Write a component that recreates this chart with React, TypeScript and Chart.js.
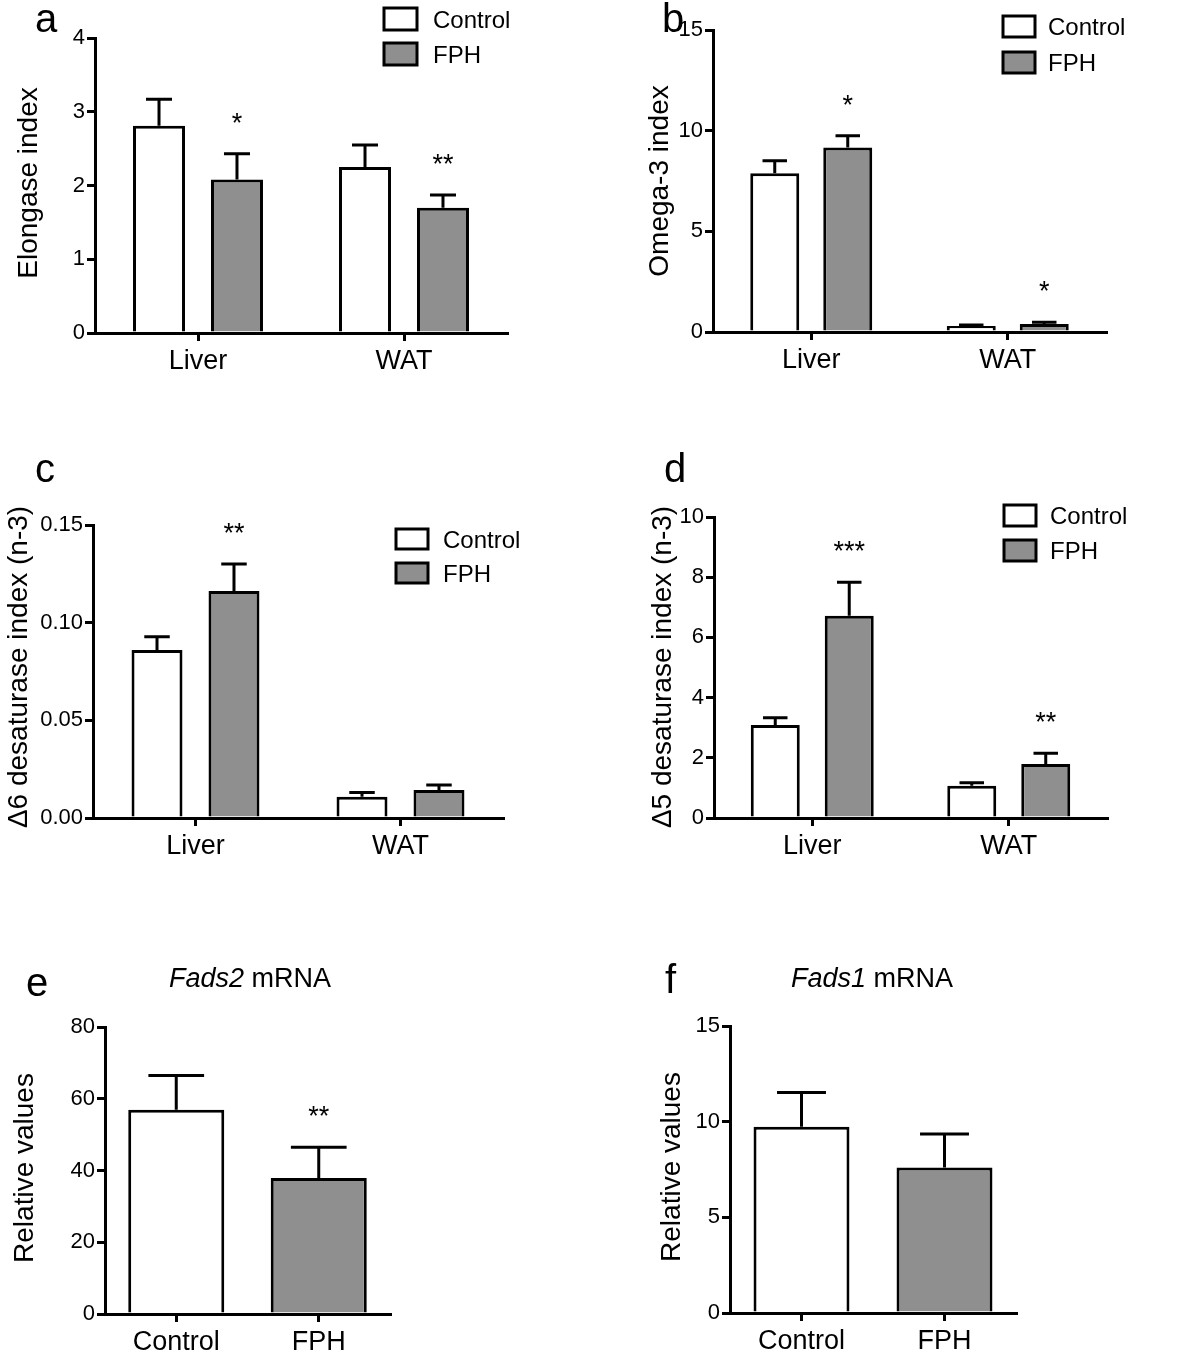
import React, { useEffect, useRef } from "react";
import { Chart, registerables } from "chart.js";

Chart.register(...registerables);

const FONT = '"Liberation Sans", Arial, Helvetica, sans-serif';
const GRAY = "#8f8f8f";

// ---------- data ----------
const tissueCategories = ["Liver", "WAT"];
const groupCategories = ["Control", "FPH"];
const seriesNames = ["Control", "FPH"];

// a: Elongase index
const elongaseControl = [2.81, 2.25];
const elongaseControlErr = [0.36, 0.3];
const elongaseFPH = [2.08, 1.7];
const elongaseFPHErr = [0.35, 0.17];
const elongaseStars = ["*", "**"];
const elongaseTicks = [0, 1, 2, 3, 4];

// b: Omega-3 index
const omegaControl = [7.88, 0.3];
const omegaControlErr = [0.63, 0.05];
const omegaFPH = [9.16, 0.4];
const omegaFPHErr = [0.59, 0.08];
const omegaStars = ["*", "*"];
const omegaTicks = [0, 5, 10, 15];

// c: Δ6 desaturase index (n-3)
const d6Control = [0.086, 0.0109];
const d6ControlErr = [0.0068, 0.0022];
const d6FPH = [0.1162, 0.0143];
const d6FPHErr = [0.0138, 0.0026];
const d6Stars = ["**", ""];
const d6Ticks = [0, 0.05, 0.1, 0.15];

// d: Δ5 desaturase index (n-3)
const d5Control = [3.09, 1.07];
const d5ControlErr = [0.24, 0.1];
const d5FPH = [6.72, 1.79];
const d5FPHErr = [1.11, 0.36];
const d5Stars = ["***", "**"];
const d5Ticks = [0, 2, 4, 6, 8, 10];

// e: Fads2 mRNA
const fads2Values = [56.9, 37.9];
const fads2Err = [9.6, 8.6];
const fads2Stars = ["", "**"];
const fads2Ticks = [0, 20, 40, 60, 80];

// f: Fads1 mRNA
const fads1Values = [9.74, 7.61];
const fads1Err = [1.78, 1.75];
const fads1Stars = ["", ""];
const fads1Ticks = [0, 5, 10, 15];

type Panel = {
  canvas: { x: number; y: number; w: number; h: number };
  area: { l: number; t: number; r: number; b: number };
  labels: string[];
  datasets: any[];
  errors: number[][];
  stars: string[][];
  ticks: number[];
  decimals: number;
  catPct: number;
  barPct: number;
  capFrac: number;
  yTitle: string;
  yTitlePos: [number, number];
  letter: string;
  letterPos: [number, number];
  legend?: { x: number; y1: number; y2: number; w: number; h: number; textX: number };
  title?: { italic: string; rest: string; cx: number; by: number };
};

const twoSeries = (c: number[], f: number[]) => [
  { label: seriesNames[0], data: c, backgroundColor: "#ffffff" },
  { label: seriesNames[1], data: f, backgroundColor: GRAY },
];
const oneSeries = (v: number[]) => [
  { label: "values", data: v, backgroundColor: ["#ffffff", GRAY] },
];

const panels: Panel[] = [
  {
    canvas: { x: 0, y: 0, w: 600, h: 450 },
    area: { l: 95, t: 38, r: 507, b: 333 },
    labels: tissueCategories,
    datasets: twoSeries(elongaseControl, elongaseFPH),
    errors: [elongaseControlErr, elongaseFPHErr],
    stars: [["", ""], elongaseStars],
    ticks: elongaseTicks,
    decimals: 0,
    catPct: 0.757,
    barPct: 0.667,
    capFrac: 0.5,
    yTitle: "Elongase index",
    yTitlePos: [37, 183],
    letter: "a",
    letterPos: [35, 32],
    legend: { x: 384, y1: 8, y2: 43, w: 33, h: 22, textX: 433 },
  },
  {
    canvas: { x: 600, y: 0, w: 600, h: 450 },
    area: { l: 713, t: 30, r: 1106, b: 332 },
    labels: tissueCategories,
    datasets: twoSeries(omegaControl, omegaFPH),
    errors: [omegaControlErr, omegaFPHErr],
    stars: [["", ""], omegaStars],
    ticks: omegaTicks,
    decimals: 0,
    catPct: 0.743,
    barPct: 0.671,
    capFrac: 0.5,
    yTitle: "Omega-3 index",
    yTitlePos: [668, 181],
    letter: "b",
    letterPos: [662, 32],
    legend: { x: 1003, y1: 16, y2: 52, w: 32, h: 21, textX: 1048 },
  },
  {
    canvas: { x: 0, y: 450, w: 600, h: 450 },
    area: { l: 93, t: 525, r: 503, b: 818 },
    labels: tissueCategories,
    datasets: twoSeries(d6Control, d6FPH),
    errors: [d6ControlErr, d6FPHErr],
    stars: [["", ""], d6Stars],
    ticks: d6Ticks,
    decimals: 2,
    catPct: 0.751,
    barPct: 0.662,
    capFrac: 0.5,
    yTitle: "\u03946 desaturase index (n-3)",
    yTitlePos: [27, 667],
    letter: "c",
    letterPos: [35, 482],
    legend: { x: 396, y1: 529, y2: 563, w: 32, h: 20, textX: 443 },
  },
  {
    canvas: { x: 600, y: 450, w: 600, h: 450 },
    area: { l: 714, t: 517, r: 1107, b: 818 },
    labels: tissueCategories,
    datasets: twoSeries(d5Control, d5FPH),
    errors: [d5ControlErr, d5FPHErr],
    stars: [["", ""], d5Stars],
    ticks: d5Ticks,
    decimals: 0,
    catPct: 0.753,
    barPct: 0.662,
    capFrac: 0.5,
    yTitle: "\u03945 desaturase index (n-3)",
    yTitlePos: [671, 667],
    letter: "d",
    letterPos: [664, 482],
    legend: { x: 1004, y1: 505, y2: 540, w: 32, h: 21, textX: 1050 },
  },
  {
    canvas: { x: 0, y: 930, w: 640, h: 433 },
    area: { l: 105, t: 1027, r: 390, b: 1314 },
    labels: groupCategories,
    datasets: oneSeries(fads2Values),
    errors: [fads2Err],
    stars: [fads2Stars],
    ticks: fads2Ticks,
    decimals: 0,
    catPct: 1,
    barPct: 0.674,
    capFrac: 0.58,
    yTitle: "Relative values",
    yTitlePos: [33, 1168],
    letter: "e",
    letterPos: [26, 996],
    title: { italic: "Fads2", rest: " mRNA", cx: 250, by: 987 },
  },
  {
    canvas: { x: 640, y: 930, w: 560, h: 433 },
    area: { l: 730, t: 1026, r: 1016, b: 1313 },
    labels: groupCategories,
    datasets: oneSeries(fads1Values),
    errors: [fads1Err],
    stars: [fads1Stars],
    ticks: fads1Ticks,
    decimals: 0,
    catPct: 1,
    barPct: 0.671,
    capFrac: 0.51,
    yTitle: "Relative values",
    yTitlePos: [680, 1167],
    letter: "f",
    letterPos: [665, 993],
    title: { italic: "Fads1", rest: " mRNA", cx: 872, by: 987 },
  },
];

function makeDecor(p: Panel) {
  const ox = p.canvas.x;
  const oy = p.canvas.y;
  return {
    id: "decor",
    afterDatasetsDraw(chart: any) {
      const ctx = chart.ctx;
      const yScale = chart.scales.y;
      ctx.save();
      ctx.strokeStyle = "#000";
      ctx.fillStyle = "#000";
      ctx.lineWidth = 3;
      ctx.lineCap = "butt";
      chart.data.datasets.forEach((ds: any, di: number) => {
        const meta = chart.getDatasetMeta(di);
        meta.data.forEach((el: any, i: number) => {
          const v = ds.data[i];
          const e = p.errors[di][i];
          const top = yScale.getPixelForValue(v + e);
          const capW = el.width * p.capFrac;
          ctx.beginPath();
          ctx.moveTo(el.x, el.y);
          ctx.lineTo(el.x, top);
          ctx.moveTo(el.x - capW / 2, top);
          ctx.lineTo(el.x + capW / 2, top);
          ctx.stroke();
          const s = p.stars[di][i];
          if (s) {
            ctx.font = `27px ${FONT}`;
            ctx.textAlign = "center";
            ctx.textBaseline = "alphabetic";
            const m = ctx.measureText(s);
            const cy = top - 36;
            const base = cy + (m.actualBoundingBoxAscent - m.actualBoundingBoxDescent) / 2;
            ctx.fillText(s, el.x, base);
          }
        });
      });
      ctx.restore();
    },
    afterDraw(chart: any) {
      const ctx = chart.ctx;
      ctx.save();
      ctx.fillStyle = "#000";
      // panel letter
      ctx.font = `40px ${FONT}`;
      ctx.textAlign = "left";
      ctx.textBaseline = "alphabetic";
      ctx.fillText(p.letter, p.letterPos[0] - ox, p.letterPos[1] - oy);
      // y title
      ctx.save();
      ctx.translate(p.yTitlePos[0] - ox, p.yTitlePos[1] - oy);
      ctx.rotate(-Math.PI / 2);
      ctx.font = `28px ${FONT}`;
      ctx.textAlign = "center";
      ctx.fillText(p.yTitle, 0, 0);
      ctx.restore();
      // legend
      if (p.legend) {
        const L = p.legend;
        [L.y1, L.y2].forEach((yy, i) => {
          ctx.fillStyle = i === 0 ? "#ffffff" : GRAY;
          ctx.fillRect(L.x - ox, yy - oy, L.w, L.h);
          ctx.strokeStyle = "#000";
          ctx.lineWidth = 3;
          ctx.strokeRect(L.x - ox, yy - oy, L.w, L.h);
          ctx.fillStyle = "#000";
          ctx.font = `24px ${FONT}`;
          ctx.textAlign = "left";
          ctx.fillText(seriesNames[i], L.textX - ox, yy - oy + L.h / 2 + 8.6);
        });
      }
      // title
      if (p.title) {
        const T = p.title;
        ctx.font = `italic 27px ${FONT}`;
        const w1 = ctx.measureText(T.italic).width;
        ctx.font = `27px ${FONT}`;
        const w2 = ctx.measureText(T.rest).width;
        const sx = T.cx - (w1 + w2) / 2 - ox;
        ctx.textAlign = "left";
        ctx.font = `italic 27px ${FONT}`;
        ctx.fillText(T.italic, sx, T.by - oy);
        ctx.font = `27px ${FONT}`;
        ctx.fillText(T.rest, sx + w1, T.by - oy);
      }
      ctx.restore();
    },
  };
}

function PanelChart({ p }: { p: Panel }) {
  const ref = useRef<HTMLCanvasElement | null>(null);
  useEffect(() => {
    if (!ref.current) return;
    const yW = p.area.l - p.canvas.x;
    const xH = p.canvas.y + p.canvas.h - p.area.b;
    const gridCommon = {
      display: true,
      drawOnChartArea: false,
      drawTicks: true,
      tickLength: 8,
      lineWidth: 3,
      tickWidth: 3,
      color: "#000",
      tickColor: "#000",
    };
    const chart = new Chart(ref.current, {
      type: "bar",
      data: {
        labels: p.labels,
        datasets: p.datasets.map((d) => ({
          ...d,
          borderColor: "#000",
          borderWidth: 3,
          categoryPercentage: p.catPct,
          barPercentage: p.barPct,
        })),
      },
      options: {
        responsive: false,
        animation: false,
        devicePixelRatio: 1,
        layout: {
          padding: {
            top: p.area.t - p.canvas.y,
            right: p.canvas.x + p.canvas.w - p.area.r,
            left: 0,
            bottom: 0,
          },
        },
        plugins: {
          legend: { display: false },
          tooltip: { enabled: false },
          title: { display: false },
        },
        scales: {
          x: {
            type: "category",
            grid: { ...gridCommon, offset: false },
            border: { display: true, color: "#000", width: 3 },
            ticks: { color: "#000", font: { family: FONT, size: 27 }, padding: 4, maxRotation: 0 },
            afterFit: (s: any) => {
              s.height = xH;
            },
          },
          y: {
            type: "linear",
            min: p.ticks[0],
            max: p.ticks[p.ticks.length - 1],
            grid: gridCommon,
            border: { display: true, color: "#000", width: 3 },
            ticks: {
              color: "#000",
              font: { family: FONT, size: 22 },
              padding: 2,
              callback: (v: any) => Number(v).toFixed(p.decimals),
            },
            afterBuildTicks: (s: any) => {
              s.ticks = p.ticks.map((v) => ({ value: v }));
            },
            afterFit: (s: any) => {
              s.width = yW;
            },
          },
        },
      } as any,
      plugins: [makeDecor(p)],
    });
    return () => chart.destroy();
  }, [p]);
  return (
    <canvas
      ref={ref}
      width={p.canvas.w}
      height={p.canvas.h}
      style={{
        position: "absolute",
        left: p.canvas.x,
        top: p.canvas.y,
        width: p.canvas.w,
        height: p.canvas.h,
      }}
    />
  );
}

export default function App() {
  return (
    <div
      style={{
        position: "absolute",
        left: 0,
        top: 0,
        width: 1200,
        height: 1363,
        background: "#fff",
      }}
    >
      {panels.map((p, i) => (
        <PanelChart key={i} p={p} />
      ))}
    </div>
  );
}
